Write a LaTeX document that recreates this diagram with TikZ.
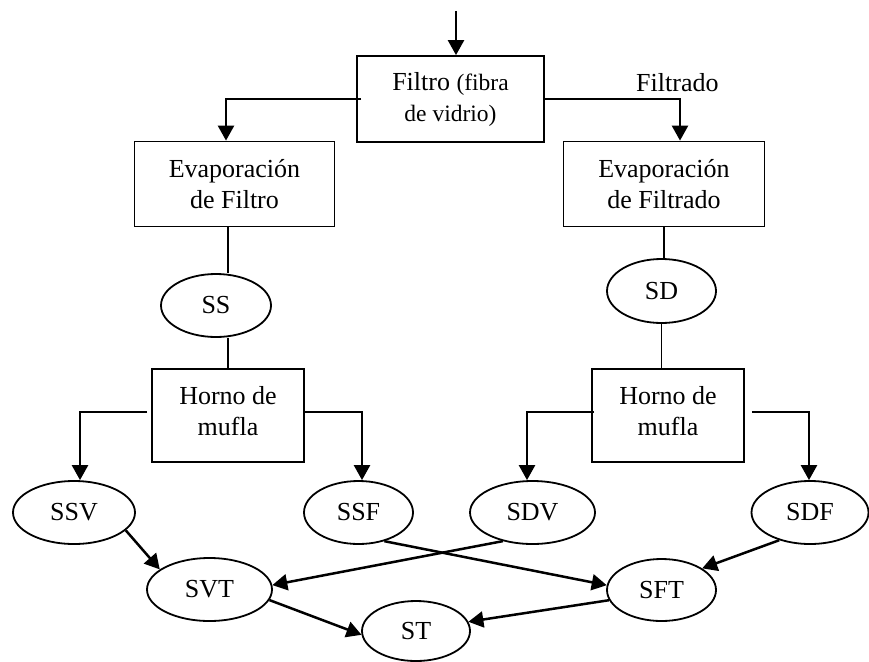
\documentclass[tikz,border=0pt]{standalone}
\usepackage{fontspec}
\setmainfont{Liberation Serif}
\usetikzlibrary{arrows.meta,shapes.geometric}
\begin{document}
\begin{tikzpicture}[x=1pt,y=-1pt,
  box/.style={draw,line width=1.8pt,rectangle,inner sep=0pt,align=center,font=\fontsize{26}{31}\selectfont},
  oval/.style={draw,line width=1.8pt,ellipse,inner sep=0pt,font=\fontsize{26}{31}\selectfont},
  plainline/.style={line width=1.9pt},
  arr/.style={line width=2.5pt,-{Triangle[length=15pt,width=16pt]}}]
\useasboundingbox (0,0) rectangle (869,661);

% boxes
\node[box,minimum width=187pt,minimum height=86pt] (filtro) at (450.5,99)
  {Filtro {\fontsize{23.5}{30}\selectfont(fibra}\\{\fontsize{23.5}{30}\selectfont de vidrio)}};
\node[box,minimum width=200pt,minimum height=85pt] (evl) at (234.5,184) {Evaporación\\de Filtro};
\node[box,minimum width=201pt,minimum height=85pt] (evr) at (664,184) {Evaporación\\de Filtrado};
\node[oval,minimum width=110pt,minimum height=63pt] (ss) at (216,305.5) {SS};
\node[oval,minimum width=109pt,minimum height=64pt] (sd) at (661.5,291) {SD};
\node[box,minimum width=152pt,minimum height=93pt] (hl) at (228,415.5) {Horno de\\mufla\rule[-10pt]{0pt}{10pt}};
\node[box,minimum width=152pt,minimum height=93pt] (hr) at (668,415.5) {Horno de\\mufla\rule[-10pt]{0pt}{10pt}};

% ellipses
\node[oval,minimum width=122pt,minimum height=63pt] (ssv) at (74,512.5) {SSV};
\node[oval,minimum width=109pt,minimum height=63pt] (ssf) at (358.5,512.5) {SSF};
\node[oval,minimum width=125pt,minimum height=63pt] (sdv) at (532.5,512.5) {SDV};
\node[oval,minimum width=117pt,minimum height=63pt] (sdf) at (810,512.5) {SDF};
\node[oval,minimum width=125pt,minimum height=63pt] (svt) at (209.5,589.5) {SVT};
\node[oval,minimum width=109pt,minimum height=62pt] (sft) at (661.5,590) {SFT};
\node[oval,minimum width=108pt,minimum height=60pt] (st) at (416,631) {ST};

% label
\node[font=\fontsize{26}{31}\selectfont,anchor=base west,inner sep=0pt] (filtrado) at (636,91) {Filtrado};

% connectors
\coordinate (in) at (456,11);
\draw[arr] (in) -- (in |- filtro.north);
\draw[arr] ([xshift=5pt]filtro.west) -| ([xshift=-8.5pt]evl.north);
\draw[arr] (filtro.east) -| ([xshift=16pt]evr.north);

\draw[plainline] (evl.south -| hl.north) -- (ss.north -| hl.north);
\draw[plainline] (ss.south -| hl.north) -- (hl.north);
\draw[plainline] (evr.south) -- (evr.south |- sd.north);
\draw[plainline] (sd.south) -- (sd.south |- hr.north);

\draw[arr] ([shift={(-4pt,3.5pt)}]hl.west) -| ([xshift=6pt]ssv.north);
\draw[arr] ([yshift=3.5pt]hl.east) -| ([xshift=3.5pt]ssf.north);
\draw[arr] ([shift={(3pt,3.5pt)}]hr.west) -| ([xshift=-5.5pt]sdv.north);
\draw[arr] ([shift={(7pt,3.5pt)}]hr.east) -| ([xshift=-1pt]sdf.north);

\draw[arr] (ssv.-19) -- (svt.158);
\draw[arr] (svt.-10) -- (st.184);
\draw[arr] (sdv.224) -- (svt.4);
\draw[arr] (ssf.-48) -- (sft.175);
\draw[arr] (sdf.222) -- (sft.28);
\draw[arr] (sft.191) -- (st.10);
\end{tikzpicture}
\end{document}
